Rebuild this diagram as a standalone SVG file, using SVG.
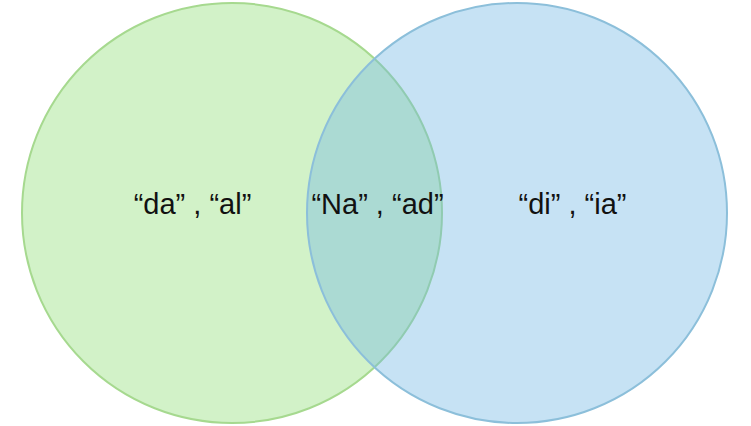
<svg xmlns="http://www.w3.org/2000/svg" width="751" height="426" viewBox="0 0 751 426">
<style>
.lbl{font-family:"Liberation Sans",Arial,Helvetica,sans-serif;font-size:29px;fill:#111;text-anchor:middle}
</style>
<rect width="751" height="426" fill="#ffffff"/>
<g id="set-left">
<circle cx="232" cy="213" r="210" fill="#d2f2c8" stroke="#a6d98f" stroke-width="2"/>
</g>
<g id="set-right">
<circle cx="517" cy="213" r="210" fill="#71b7e4" fill-opacity="0.4" stroke="#8cbfda" stroke-width="2"/>
</g>
<g id="labels">
<text class="lbl" x="192.5" y="214">“da” , “al”</text>
<text class="lbl" x="377.5" y="214">“Na” , “ad”</text>
<text class="lbl" x="572.5" y="214">“di” , “ia”</text>
</g>
</svg>
